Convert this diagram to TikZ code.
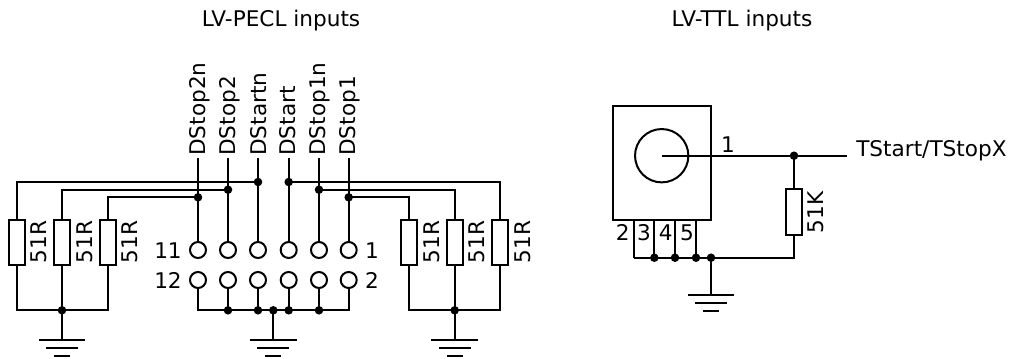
\documentclass[tikz,border=0pt]{standalone}
\usepackage{fontspec}
\setmainfont{DejaVu Sans}
\tikzset{
  wire/.style={line width=1.5pt,black},
  res/.style={draw,line width=1.5pt,fill=white,rectangle,minimum width=12pt,minimum height=34.2pt,inner sep=0pt},
  pad/.style={draw,line width=1.5pt,fill=white,circle,minimum size=12pt,inner sep=0pt},
  jn/.style={circle,fill=black,minimum size=6.4pt,inner sep=0pt},
  txt/.style={font=\fontsize{16.2pt}{18pt}\selectfont,inner sep=0pt,anchor=base},
  vtxt/.style={txt,rotate=90,anchor=base},
  sig/.style={txt,rotate=90,anchor=base west}
}
\newcommand{\gndsym}[1]{%
  \draw[wire] ([xshift=-17.6pt]#1) -- ([xshift=17.6pt]#1);
  \draw[wire] ([xshift=-12pt,yshift=-5.7pt]#1) -- ([xshift=12pt,yshift=-5.7pt]#1);
  \draw[wire] ([xshift=-6pt,yshift=-11.4pt]#1) -- ([xshift=6pt,yshift=-11.4pt]#1);
}
\begin{document}
\begin{tikzpicture}[x=0.75pt,y=-0.75pt]
\useasboundingbox (0,0) rectangle (1016,358);
\node[txt] (t1) at (281,26) {LV-PECL inputs};
\node[txt] (t2) at (742,26) {LV-TTL inputs};
% pads
\foreach \n/\x in {a/198,b/228,c/258,d/288.7,e/319,f/348.7}{
  \node[pad] (u\n) at (\x,250) {};
  \node[pad] (l\n) at (\x,280) {};
  \coordinate (top\n) at (\x,158);
}
% signal labels
\node[sig] (sa) at (205,156) {DStop2n};
\node[sig] (sb) at (235,156) {DStop2};
\node[sig] (sc) at (266,156) {DStartn};
\node[sig] (sd) at (295,156) {DStart};
\node[sig] (se) at (325.7,156) {DStop1n};
\node[sig] (sf) at (355,156) {DStop1};
\node[txt] (n11) at (168,258) {11};
\node[txt] (n12) at (168,288) {12};
\node[txt] (n1) at (372,258) {1};
\node[txt] (n2) at (372,288) {2};
% resistors
\foreach \n/\x in {ra/16.7,rb/62,rc/107.5,rd/409.3,re/454.7,rf/500}{
  \node[res] (\n) at (\x,242.3) {};
  \node[vtxt] (lab\n) at (\x+30,242) {51R};
}
% junctions on the buses
\node[jn] (ja) at (198,197.3) {};
\node[jn] (jb) at (228,189.7) {};
\node[jn] (jc) at (258,182) {};
\node[jn] (jd) at (288.7,182) {};
\node[jn] (je) at (319,189.7) {};
\node[jn] (jf) at (348.7,197.3) {};
% bottom junctions
\node[jn] (kb) at (228,310.3) {};
\node[jn] (kc) at (258,310.3) {};
\node[jn] (kg) at (273.3,310.3) {};
\node[jn] (kd) at (288.7,310.3) {};
\node[jn] (ke) at (319,310.3) {};
\node[jn] (kl) at (62,310.3) {};
\node[jn] (kr) at (454.7,310.3) {};
\coordinate (g1) at (62,340.3);
\coordinate (g2) at (273.3,340.3);
\coordinate (g3) at (454.7,340.3);
% vertical signal wires
\foreach \n in {a,b,c,d,e,f}{
  \draw[wire] (top\n) -- (u\n);
}
\draw[wire] (la) |- (kb.center);
\draw[wire] (lb) -- (kb.center);
\draw[wire] (lc) -- (kc.center);
\draw[wire] (ld) -- (kd.center);
\draw[wire] (le) -- (ke.center);
\draw[wire] (lf) |- (ke.center);
\draw[wire] (kb.center) -- (kc.center);
\draw[wire] (kc.center) -- (kg.center);
\draw[wire] (kg.center) -- (kd.center);
\draw[wire] (kd.center) -- (ke.center);
\draw[wire] (kg.center) -- (g2);
% buses
\draw[wire] (ra.north) |- (jc.center);
\draw[wire] (rb.north) |- (jb.center);
\draw[wire] (rc.north) |- (ja.center);
\draw[wire] (rd.north) |- (jf.center);
\draw[wire] (re.north) |- (je.center);
\draw[wire] (rf.north) |- (jd.center);
% resistor bottoms
\draw[wire] (ra.south) |- (kl.center);
\draw[wire] (rb.south) -- (kl.center);
\draw[wire] (rc.south) |- (kl.center);
\draw[wire] (rd.south) |- (kr.center);
\draw[wire] (re.south) -- (kr.center);
\draw[wire] (rf.south) |- (kr.center);
\draw[wire] (kl.center) -- (g1);
\draw[wire] (kr.center) -- (g3);
\gndsym{g1}
\gndsym{g2}
\gndsym{g3}
% LV-TTL
\node[draw,line width=1.5pt,rectangle,minimum width=73.9pt,minimum height=85.2pt,inner sep=0pt] (box) at (661.85,162.85) {};
\node[draw,line width=1.5pt,circle,minimum size=40pt,inner sep=0pt] (disc) at (661.7,155.7) {};
\coordinate (cen) at (661.7,155.7);
\node[txt,anchor=base west] (out) at (856,156.7) {TStart/TStopX};
\coordinate (outend) at (847,155.7);
\node[jn] (jt) at (794,155.7) {};
\node[res] (rt) at (794,212.2) {};
\node[vtxt] (labrt) at (823,212.5) {51K};
\node[txt] (p1) at (728,152.7) {1};
\node[txt] (p2) at (622.7,240.7) {2};
\node[txt] (p3) at (644,240.7) {3};
\node[txt] (p4) at (665.7,240.7) {4};
\node[txt] (p5) at (687,240.7) {5};
\coordinate (b2) at (633.7,219.7);
\coordinate (b3) at (654.3,219.7);
\coordinate (b4) at (675,219.7);
\coordinate (b5) at (696,219.7);
\coordinate (c2) at (633.7,257.7);
\node[jn] (c3) at (654.3,257.7) {};
\node[jn] (c4) at (675,257.7) {};
\node[jn] (c5) at (696,257.7) {};
\node[jn] (c6) at (711,257.7) {};
\coordinate (g4) at (711,295.3);
\draw[wire] (cen) -- (jt.center);
\draw[wire] (jt.center) -- (outend);
\draw[wire] (jt.center) -- (rt.north);
\draw[wire] (rt.south) |- (c6.center);
\draw[wire] (b2) -- (c2);
\draw[wire] (c2) -- (c3.center);
\draw[wire] (b3) -- (c3.center);
\draw[wire] (c3.center) -- (c4.center);
\draw[wire] (b4) -- (c4.center);
\draw[wire] (c4.center) -- (c5.center);
\draw[wire] (b5) -- (c5.center);
\draw[wire] (c5.center) -- (c6.center);
\draw[wire] (c6.center) -- (g4);
\gndsym{g4}
\end{tikzpicture}
\end{document}
